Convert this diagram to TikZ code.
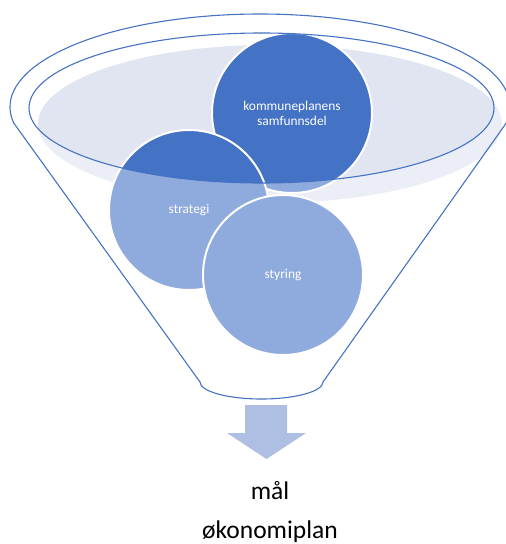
\documentclass[tikz,border=0pt]{standalone}
\usepackage{fontspec}
\setmainfont{Carlito}
\usepackage{xcolor}
\usetikzlibrary{positioning}
\definecolor{darkblue}{HTML}{4472C4}
\definecolor{paleblue}{HTML}{8FAADC}
\definecolor{bowlfill}{HTML}{EBEEF6}
\definecolor{bowlin}{HTML}{E1E5F1}
\definecolor{arrowblue}{HTML}{AFBFE3}

\begin{document}
\begin{tikzpicture}[x=1pt,y=-1pt,
  rim/.style={draw=darkblue,line width=1.1pt},
  bubble/.style={circle,draw=white,line width=2pt,minimum size=160pt,inner sep=0pt,
    text=white,align=center,font=\fontsize{13.4}{15}\selectfont},
  result/.style={anchor=base,font=\fontsize{25.5}{30}\selectfont}]
\useasboundingbox (0,0) rectangle (506,544);

% bowl
\fill[bowlfill] (270,124) ellipse (232 and 79);
\begin{scope}
\clip (261.5,108) ellipse (232.5 and 75);
\fill[bowlin] (270,124) ellipse (232 and 79);
\end{scope}

% funnel outline
\draw[rim,line join=round] (260,107) ++(170.1:250 and 93)
  arc[start angle=170.1,end angle=369.9,x radius=250,y radius=93]
  -- (323,382) arc[start angle=0,end angle=180,x radius=61.5,y radius=17] -- cycle;

% circles
\foreach \nm/\x/\y/\txt in {kp/292/113/{kommuneplanens\\samfunnsdel},
                            strat/189/210/strategi,
                            styr/283/275/styring}{
  \fill[paleblue] (\x,\y) circle (80);
  \begin{scope}
  \clip (261.5,108) ellipse (232.5 and 75);
  \fill[darkblue] (\x,\y) circle (80);
  \end{scope}
  \node[bubble] (\nm) at (\x,\y) {\txt};
}

% rim
\draw[rim] (261.5,108) ellipse (232.5 and 75);

% arrow
\fill[arrowblue] (245,405) -- (287,405) -- (287,433) -- (306,433) -- (266.5,459)
  -- (227,433) -- (245,433) -- cycle;

\node[result] (maal) at (270,499) {mål};
\node[result] (okon) at (270,538) {økonomiplan};
\end{tikzpicture}
\end{document}
